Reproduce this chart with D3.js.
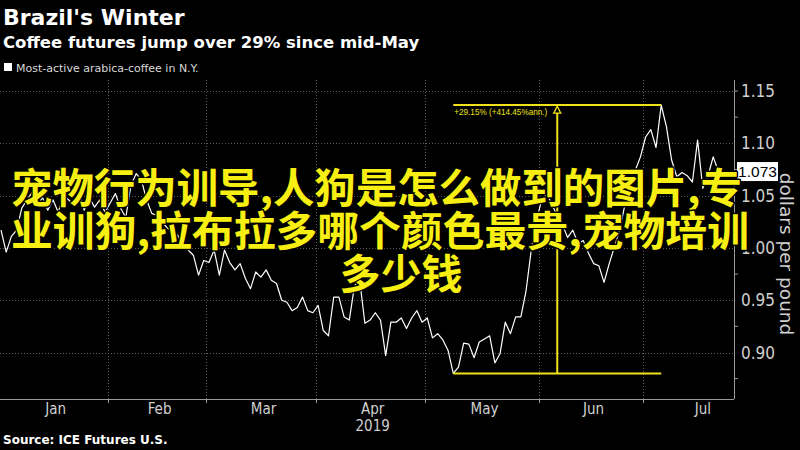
<!DOCTYPE html>
<html><head><meta charset="utf-8">
<script src="https://cdn.jsdelivr.net/npm/d3@7"></script>
<style>html,body{margin:0;padding:0;background:#000;overflow:hidden}svg{display:block}</style>
</head><body>
<svg id="c" width="800" height="450"></svg>
<script>
// Most-active arabica coffee (USD/lb), one value per trading session from 2 Jan 2019
const prices = [
 1.017,0.996,1.011,1.017,1.038,1.046,1.053,1.041,1.048,1.036,1.046,1.034,1.050,1.046,1.041,1.055,1.036,1.048,1.039,1.046,1.034,
 1.043,1.052,1.038,1.029,1.060,1.071,1.065,1.046,1.033,1.031,1.025,1.019,1.015,1.012,1.003,0.998,0.993,0.974,0.988,
 0.986,0.998,0.974,0.998,0.986,0.979,0.985,0.971,0.961,0.977,0.972,0.979,0.969,0.966,0.950,0.948,0.940,0.943,0.953,0.940,0.938,
 0.945,0.921,0.916,0.953,0.953,0.934,0.931,0.964,0.969,0.928,0.931,0.938,0.931,0.897,0.929,0.929,0.933,0.923,0.933,0.940,0.929,
 0.933,0.914,0.918,0.912,0.902,0.880,0.886,0.909,0.908,0.895,0.910,0.913,0.916,0.890,0.899,0.929,0.918,0.934,0.934,0.959,0.998,1.026,
 1.046,1.052,1.041,1.031,1.022,1.010,1.017,1.004,1.007,0.995,0.985,0.983,0.967,0.985,1.001,1.017,1.041,1.060,1.074,1.087,
 1.106,1.113,1.096,1.1365,1.116,1.084,1.068,1.072,1.069,1.063,1.103,1.057,1.069,1.087,1.073
];
const monthStarts = [21, 40, 61, 82, 104, 124];          // session index of each month's first session
const monthLabels = ["Jan","Feb","Mar","Apr","May","Jun","Jul"];
const monthLabelPos = [10.5, 30.5, 50.5, 71.5, 93, 114, 135];
const yTicks = [0.90, 0.95, 1.00, 1.05, 1.10, 1.15];
const yMinorTicks = [0.875, 0.925, 0.975, 1.025, 1.075, 1.125, 1.15];
const annLowIdx = 87, annHighIdx = 127;
const annLabel = "+29.15% (+414.45%ann.)";
const lastLabel = "1.073";
const overlayLines = ["宠物行为训导,人狗是怎么做到的图片,专", "业训狗,拉布拉多哪个颜色最贵,宠物培训", "多少钱"];

const svg = d3.select("#c");
svg.append("rect").attr("width",800).attr("height",450).attr("fill","#000");

const x = d3.scaleLinear().domain([0, 141]).range([1, 734]);
const y = d3.scaleLinear().domain([0.90, 1.15]).range([352.5, 91]);
const plotTop = 80, plotBottom = 399, axisX = 734;

// titles
svg.append("text").attr("x",3).attr("y",25).text("Brazil's Winter")
  .attr("fill","#fff").attr("font-family","DejaVu Sans").attr("font-weight","bold").attr("font-size",22);
svg.append("text").attr("x",3).attr("y",48).text("Coffee futures jump over 29% since mid-May")
  .attr("fill","#fff").attr("font-family","DejaVu Sans").attr("font-weight","bold").attr("font-size",16.5);
svg.append("rect").attr("x",4).attr("y",63).attr("width",8).attr("height",8).attr("fill","#fff");
svg.append("text").attr("x",16).attr("y",72).text("Most-active arabica-coffee in N.Y.")
  .attr("fill","#d8d8d8").attr("font-family","DejaVu Sans").attr("font-size",11);

// grid
const grid = svg.append("g").attr("stroke","#5c5c5c").attr("stroke-width",1).attr("stroke-dasharray","1,2");
grid.selectAll("line.h").data(yTicks).join("line").attr("class","h")
  .attr("x1",0).attr("x2",axisX).attr("y1",d=>Math.round(y(d))+0.5).attr("y2",d=>Math.round(y(d))+0.5);
grid.selectAll("line.v").data([-0.5].concat(monthStarts.map(d=>d-0.5))).join("line").attr("class","v")
  .attr("x1",d=>Math.round(x(d))+0.5).attr("x2",d=>Math.round(x(d))+0.5).attr("y1",plotTop).attr("y2",plotBottom);

// right axis
const ya = svg.append("g").attr("transform",`translate(${axisX},0)`);
ya.append("line").attr("x1",0.5).attr("x2",0.5).attr("y1",plotTop).attr("y2",plotBottom).attr("stroke","#9a9a9a");
ya.selectAll("line.mt").data(yMinorTicks).join("line").attr("class","mt")
  .attr("x1",0).attr("x2",4).attr("y1",d=>y(d)).attr("y2",d=>y(d)).attr("stroke","#9a9a9a");
ya.selectAll("text").data(yTicks).join("text")
  .attr("x",7).attr("y",d=>y(d)).attr("dy","0.36em").text(d=>d.toFixed(2))
  .attr("fill","#d0d0d0").attr("font-family","Liberation Sans Narrow, DejaVu Sans Condensed, sans-serif").attr("font-size",17);
svg.append("text").attr("transform","translate(780,254) rotate(90)").attr("text-anchor","middle")
  .text("dollars per pound").attr("fill","#d0d0d0").attr("font-family","DejaVu Sans").attr("font-size",18.5);

// bottom axis
const xa = svg.append("g");
xa.append("line").attr("x1",0).attr("x2",axisX).attr("y1",plotBottom+0.5).attr("y2",plotBottom+0.5).attr("stroke","#9a9a9a");
xa.selectAll("line.t").data([-0.5].concat(monthStarts.map(d=>d-0.5))).join("line").attr("class","t")
  .attr("x1",d=>Math.round(x(d))+0.5).attr("x2",d=>Math.round(x(d))+0.5).attr("y1",plotBottom).attr("y2",plotBottom+4).attr("stroke","#9a9a9a");
xa.selectAll("text").data(monthLabels).join("text")
  .attr("x",(d,i)=>x(monthLabelPos[i])).attr("y",414).attr("text-anchor","middle").text(d=>d)
  .attr("fill","#d0d0d0").attr("font-family","Liberation Sans Narrow, DejaVu Sans Condensed, sans-serif").attr("font-size",15);
xa.append("text").attr("x",x(monthLabelPos[3])).attr("y",431).attr("text-anchor","middle").text("2019")
  .attr("fill","#d0d0d0").attr("font-family","Liberation Sans Narrow, DejaVu Sans Condensed, sans-serif").attr("font-size",15);

// line
const line = d3.line().x((d,i)=>x(i)).y(d=>y(d));
svg.append("path").datum(prices).attr("d",line).attr("fill","none").attr("stroke","#fff").attr("stroke-width",1.2).attr("stroke-linejoin","round");

// annotation
const ann = svg.append("g").attr("stroke","#f0e21a").attr("stroke-width",2).attr("fill","none");
const lowV = prices[annLowIdx], highV = prices[annHighIdx];
const xl = x(annLowIdx), xh = x(annHighIdx), xm = (xl+xh)/2;
ann.append("line").attr("x1",xl).attr("x2",xh).attr("y1",y(lowV)).attr("y2",y(lowV));
ann.append("line").attr("x1",xl).attr("x2",xh).attr("y1",y(highV)).attr("y2",y(highV));
ann.append("line").attr("x1",xm).attr("x2",xm).attr("y1",y(lowV)).attr("y2",y(highV)+8);
ann.append("path").attr("stroke-width",1.3).attr("d",`M${xm},${y(highV)+1}L${xm-3.5},${y(highV)+8}L${xm+3.5},${y(highV)+8}Z`);
svg.append("text").attr("x",xl+1).attr("y",y(highV)+9.5).text(annLabel)
  .attr("fill","#f0e21a").attr("font-family","Liberation Sans Narrow, sans-serif").attr("font-size",9)
  .attr("textLength",93).attr("lengthAdjust","spacingAndGlyphs");

// last value tag
const lastV = prices[prices.length-1];
svg.append("rect").attr("x",737).attr("y",y(lastV)-9.5).attr("width",41).attr("height",19).attr("fill","#fff");
svg.append("text").attr("x",757.5).attr("y",y(lastV)).attr("dy","0.36em").attr("text-anchor","middle").text(lastLabel)
  .attr("fill","#000").attr("font-family","Liberation Sans Narrow, sans-serif").attr("font-size",15.5);

// source
svg.append("text").attr("x",3).attr("y",444).text("Source: ICE Futures U.S.")
  .attr("fill","#fff").attr("font-family","DejaVu Sans").attr("font-weight","bold").attr("font-size",12);

// overlay caption
const ov = svg.append("g").attr("font-family","Noto Sans CJK SC").attr("font-weight","bold").attr("font-size",41)
  .attr("fill","#f7ef12").attr("stroke","#000").attr("stroke-width",3).attr("paint-order","stroke").attr("stroke-linejoin","round");
ov.append("text").attr("x",11).attr("y",203).text(overlayLines[0]).attr("textLength",731).attr("lengthAdjust","spacingAndGlyphs");
ov.append("text").attr("x",11).attr("y",246).text(overlayLines[1]).attr("textLength",738).attr("lengthAdjust","spacingAndGlyphs");
ov.append("text").attr("x",401).attr("y",289).attr("text-anchor","middle").text(overlayLines[2]);
</script></body></html>
